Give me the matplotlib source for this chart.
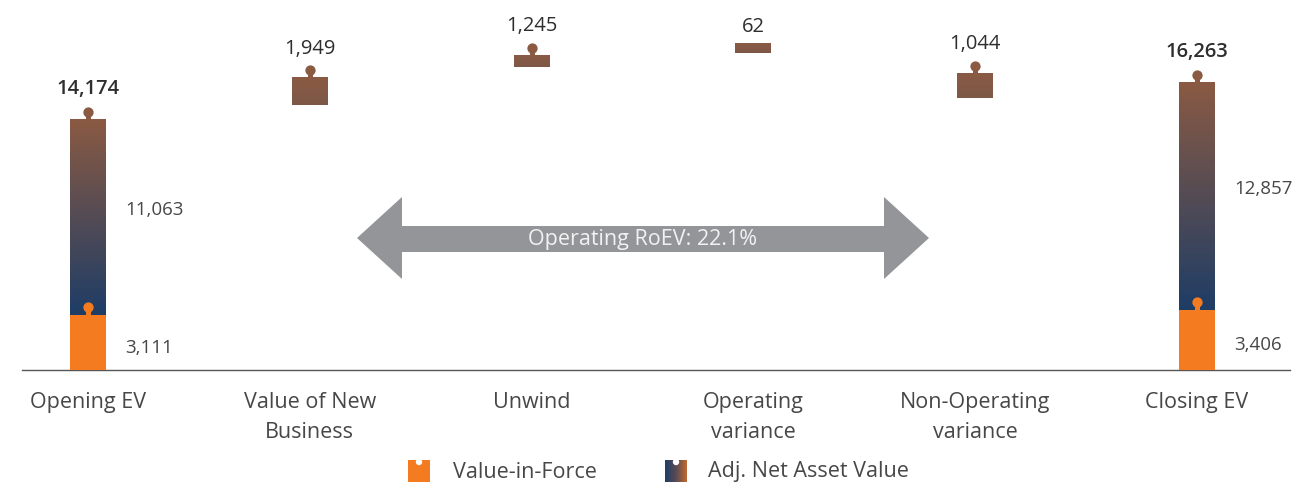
import numpy as np
import matplotlib
matplotlib.use("Agg")
import matplotlib.pyplot as plt
from matplotlib.colors import LinearSegmentedColormap
from matplotlib.transforms import offset_copy
from matplotlib.patches import Polygon, Rectangle, Circle

plt.rcParams['font.family'] = ['Open Sans', 'DejaVu Sans']

# data
categories = ['Opening EV', 'Value of New\nBusiness', 'Unwind',
              'Operating\nvariance', 'Non-Operating\nvariance', 'Closing EV']
ev_pos = [0, 5]                 # opening / closing columns
ev_vif = [3111, 3406]           # Value-in-Force
ev_anav = [11063, 12857]        # Adj. Net Asset Value
ev_total = [14174, 16263]

step_pos = [1, 2, 3, 4]
step_value = [1949, 1245, 62, 1044]
# floating bar extents as drawn in the chart
step_low = [14965, 17127, 17884, 15377]
step_high = [16506, 17788, 18409, 16755]
step_knob = [True, True, False, True]

roev_text = 'Operating RoEV: 22.1%'

# colours
ORANGE = '#F47B20'
BROWN = '#8A5A43'
NAVY = '#1E3D66'
GREY_TXT = '#474747'
DARK_TXT = '#2E2E2E'
ARROW = '#939598'

anav_cmap = LinearSegmentedColormap.from_list('anav', [NAVY, BROWN])
step_cmap = LinearSegmentedColormap.from_list('step', ['#7D5848', BROWN])
grad = np.linspace(0, 1, 256).reshape(-1, 1)

fig = plt.figure(figsize=(12.97, 4.83), dpi=100)
ax = fig.add_axes([22 / 1297, 113 / 483, 1268 / 1297, 370 / 483])

w = 0.162
NUM_FS = 14.5
SEG_FS = 13.5
LAB_FS = 15.5


def knob(x, y, color):
    tr_c = offset_copy(ax.transData, fig=fig, x=0, y=5.4, units='points')
    tr_n = offset_copy(ax.transData, fig=fig, x=0, y=1.8, units='points')
    ax.plot([x], [y], marker='o', ms=7.4, color=color, mew=0, transform=tr_c, zorder=5)
    ax.plot([x], [y], marker='s', ms=3.6, color=color, mew=0, transform=tr_n, zorder=5)


# opening / closing columns
for x, v, a, t in zip(ev_pos, ev_vif, ev_anav, ev_total):
    ax.add_patch(Rectangle((x - w / 2, 0), w, v, color=ORANGE, lw=0, zorder=3))
    ax.imshow(grad, cmap=anav_cmap, origin='lower', aspect='auto',
              extent=(x - w / 2, x + w / 2, v, v + a), zorder=3)
    knob(x, t, BROWN)
    knob(x, v, ORANGE)
    ax.text(x, t, f'{t:,}', ha='center', va='center', fontsize=NUM_FS,
            color=DARK_TXT, fontweight='semibold',
            transform=offset_copy(ax.transData, fig=fig, x=0, y=21.5, units='points'))
    ax.text(x + 0.168, v + a / 2 + 400, f'{a:,}', ha='left', va='center',
            fontsize=SEG_FS, color=GREY_TXT)
    ax.text(x + 0.168, v / 2 - 300, f'{v:,}', ha='left', va='center',
            fontsize=SEG_FS, color=GREY_TXT)

# movement bars
for x, val, lo, hi, k in zip(step_pos, step_value, step_low, step_high, step_knob):
    ax.imshow(grad, cmap=step_cmap, origin='lower', aspect='auto',
              extent=(x - w / 2, x + w / 2, lo, hi), zorder=3)
    if k:
        knob(x, hi, BROWN)
    off = 21 if k else 12.5
    ax.text(x, hi, f'{val:,}', ha='center', va='center', fontsize=NUM_FS,
            color=DARK_TXT,
            transform=offset_copy(ax.transData, fig=fig, x=0, y=off, units='points'))

ax.set_xlim(-0.2976, 5.419)
ax.set_ylim(0, 20894)
ax.set_xticks(range(len(categories)))
ax.set_xticklabels(categories, fontsize=LAB_FS, color=GREY_TXT, linespacing=1.55)
ax.tick_params(axis='x', length=0, pad=16)
ax.set_yticks([])
for s in ['top', 'right', 'left']:
    ax.spines[s].set_visible(False)
ax.spines['bottom'].set_color('#555555')
ax.spines['bottom'].set_linewidth(1)
ax.set_facecolor('none')

# overlay in pixel units for the arrow and legend
ov = fig.add_axes([0, 0, 1, 1])
ov.set_xlim(0, 1297)
ov.set_ylim(483, 0)
ov.axis('off')
ov.patch.set_alpha(0)

arrow_pts = [(357, 238), (402, 197), (402, 226), (884, 226), (884, 197),
             (929, 238), (884, 279), (884, 252), (402, 252), (402, 279)]
ov.add_patch(Polygon(arrow_pts, closed=True, color=ARROW, lw=0))
ov.text(643, 239, roev_text, ha='center', va='center', fontsize=15.5,
        color='#F2F2F2')

# legend
ov.add_patch(Rectangle((408, 460), 22, 22, color=ORANGE, lw=0))
ov.add_patch(Circle((419, 462), 3.2, color='white', lw=0))
ov.imshow(np.linspace(0, 1, 64).reshape(1, -1),
          cmap=LinearSegmentedColormap.from_list('leg', [NAVY, '#5A4A55', '#C0692F']),
          extent=(665, 687, 482, 460), aspect='auto')
ov.add_patch(Circle((676, 462), 3.2, color='white', lw=0, zorder=5))
ov.set_xlim(0, 1297)
ov.set_ylim(483, 0)
ov.text(453, 472, 'Value-in-Force', ha='left', va='center', fontsize=LAB_FS, color=GREY_TXT)
ov.text(708, 472, 'Adj. Net Asset Value', ha='left', va='center', fontsize=LAB_FS, color=GREY_TXT)

fig.savefig('out.png', dpi=100)
